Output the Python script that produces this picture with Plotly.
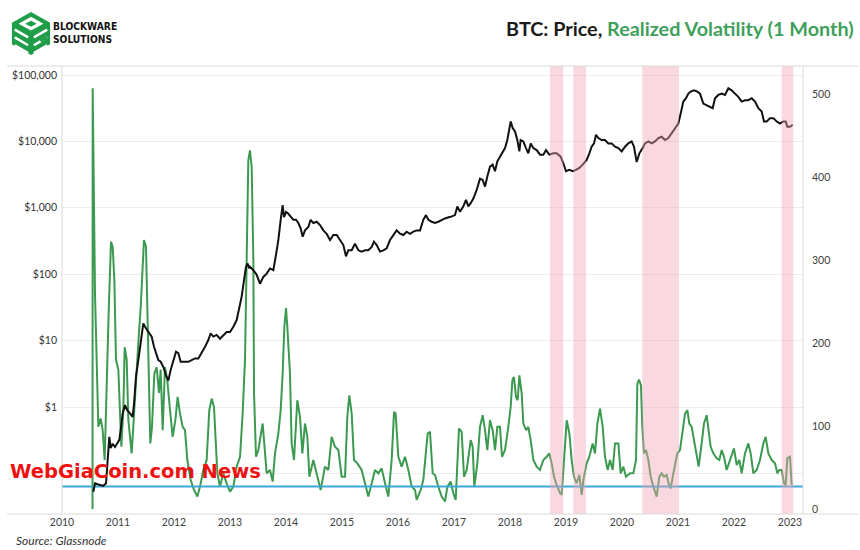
import base64
import plotly.graph_objects as go

# ---------------- data ----------------
vol_time = [
    2010.545, 2010.548, 2010.589, 2010.649, 2010.690, 2010.726, 2010.762, 2010.798, 2010.833, 2010.875,
    2010.905, 2010.935, 2010.964, 2011.006, 2011.024, 2011.060, 2011.095, 2011.119, 2011.155, 2011.185,
    2011.244, 2011.304, 2011.363, 2011.405, 2011.440, 2011.464, 2011.500, 2011.524, 2011.548, 2011.577,
    2011.607, 2011.649, 2011.690, 2011.732, 2011.762, 2011.798, 2011.839, 2011.881, 2011.929, 2011.976,
    2012.024, 2012.065, 2012.107, 2012.155, 2012.196, 2012.238, 2012.298, 2012.357, 2012.417, 2012.464,
    2012.524, 2012.583, 2012.630, 2012.673, 2012.714, 2012.744, 2012.774, 2012.821, 2012.881, 2012.940,
    2013.000, 2013.060, 2013.119, 2013.179, 2013.226, 2013.268, 2013.298, 2013.327, 2013.357, 2013.387,
    2013.417, 2013.429, 2013.464, 2013.506, 2013.583, 2013.655, 2013.714, 2013.762, 2013.804, 2013.863,
    2013.905, 2013.940, 2013.970, 2014.000, 2014.024, 2014.071, 2014.101, 2014.143, 2014.202, 2014.250,
    2014.292, 2014.339, 2014.381, 2014.417, 2014.488, 2014.548, 2014.619, 2014.696, 2014.756, 2014.815,
    2014.875, 2014.935, 2014.994, 2015.054, 2015.095, 2015.131, 2015.173, 2015.214, 2015.274, 2015.351,
    2015.411, 2015.470, 2015.530, 2015.589, 2015.649, 2015.708, 2015.768, 2015.827, 2015.887, 2015.929,
    2015.958, 2016.006, 2016.065, 2016.125, 2016.185, 2016.244, 2016.304, 2016.333, 2016.405, 2016.452,
    2016.530, 2016.571, 2016.619, 2016.661, 2016.720, 2016.780, 2016.840, 2016.881, 2016.940, 2016.988,
    2017.030, 2017.060, 2017.089, 2017.137, 2017.179, 2017.226, 2017.298, 2017.333, 2017.363, 2017.417,
    2017.464, 2017.512, 2017.554, 2017.595, 2017.643, 2017.690, 2017.732, 2017.774, 2017.821, 2017.857,
    2017.911, 2017.970, 2018.012, 2018.042, 2018.071, 2018.107, 2018.137, 2018.167, 2018.208, 2018.238,
    2018.286, 2018.327, 2018.369, 2018.417, 2018.476, 2018.536, 2018.595, 2018.655, 2018.702, 2018.744,
    2018.786, 2018.833, 2018.893, 2018.923, 2018.964, 2019.012, 2019.060, 2019.101, 2019.143, 2019.190,
    2019.238, 2019.280, 2019.310, 2019.369, 2019.417, 2019.476, 2019.518, 2019.560, 2019.607, 2019.655,
    2019.696, 2019.744, 2019.786, 2019.833, 2019.875, 2019.935, 2019.976, 2020.024, 2020.071, 2020.143,
    2020.202, 2020.250, 2020.274, 2020.304, 2020.339, 2020.363, 2020.393, 2020.429, 2020.470, 2020.512,
    2020.560, 2020.619, 2020.667, 2020.708, 2020.750, 2020.798, 2020.845, 2020.869, 2020.917, 2020.946,
    2020.988, 2021.036, 2021.083, 2021.125, 2021.167, 2021.202, 2021.244, 2021.286, 2021.333, 2021.369,
    2021.423, 2021.464, 2021.512, 2021.548, 2021.583, 2021.631, 2021.690, 2021.738, 2021.780, 2021.821,
    2021.869, 2021.929, 2022.000, 2022.048, 2022.095, 2022.137, 2022.196, 2022.256, 2022.298, 2022.345,
    2022.405, 2022.464, 2022.524, 2022.565, 2022.613, 2022.673, 2022.732, 2022.774, 2022.810, 2022.851,
    2022.893, 2022.923, 2022.952, 2023.000, 2023.030,
]
vol_value = [
    0, 507, 260, 99, 109, 95, 59, 159, 236, 322,
    316, 276, 180, 168, 140, 75, 119, 195, 180, 107,
    67, 140, 200, 243, 300, 324, 316, 240, 140, 79,
    99, 163, 171, 140, 168, 95, 171, 155, 119, 87,
    107, 135, 115, 99, 95, 59, 35, 23, 15, 27,
    47, 59, 119, 133, 123, 79, 43, 27, 43, 31,
    21, 27, 51, 63, 115, 180, 316, 420, 432, 412,
    300, 140, 63, 71, 103, 43, 47, 33, 67, 91,
    119, 163, 219, 242, 219, 163, 79, 59, 131, 111,
    67, 103, 87, 39, 59, 43, 23, 51, 47, 87,
    75, 71, 39, 39, 111, 137, 115, 59, 55, 47,
    31, 15, 31, 47, 43, 49, 31, 15, 59, 117,
    115, 63, 51, 63, 47, 27, 23, 11, 23, 35,
    91, 93, 43, 41, 27, 15, 9, 27, 33, 19,
    11, 59, 97, 93, 39, 47, 83, 75, 27, 55,
    99, 113, 95, 71, 107, 95, 71, 99, 99, 63,
    71, 99, 123, 155, 159, 135, 131, 161, 140, 103,
    95, 99, 83, 59, 51, 47, 59, 63, 67, 55,
    39, 29, 19, 17, 59, 107, 91, 59, 39, 31,
    41, 17, 35, 55, 63, 79, 67, 103, 121, 99,
    63, 47, 59, 47, 79, 79, 43, 51, 39, 43,
    43, 59, 151, 156, 149, 99, 67, 71, 59, 39,
    27, 15, 39, 43, 39, 41, 27, 25, 43, 55,
    67, 71, 95, 115, 119, 103, 99, 83, 67, 51,
    79, 103, 113, 91, 75, 67, 61, 59, 71, 63,
    47, 59, 73, 53, 59, 43, 67, 79, 67, 43,
    47, 59, 79, 87, 67, 59, 55, 43, 47, 47,
    31, 29, 61, 63, 29,
]

price_time = [
    2010.560, 2010.589, 2010.649, 2010.738, 2010.786, 2010.810, 2010.845, 2010.869, 2010.905, 2010.946,
    2010.988, 2011.024, 2011.054, 2011.083, 2011.125, 2011.167, 2011.214, 2011.262, 2011.286, 2011.321,
    2011.363, 2011.405, 2011.452, 2011.482, 2011.524, 2011.560, 2011.601, 2011.643, 2011.679, 2011.720,
    2011.762, 2011.810, 2011.857, 2011.899, 2011.940, 2011.988, 2012.036, 2012.077, 2012.119, 2012.179,
    2012.256, 2012.315, 2012.375, 2012.435, 2012.494, 2012.554, 2012.613, 2012.655, 2012.702, 2012.762,
    2012.821, 2012.881, 2012.940, 2013.000, 2013.060, 2013.119, 2013.167, 2013.208, 2013.250, 2013.286,
    2013.315, 2013.345, 2013.357, 2013.417, 2013.476, 2013.536, 2013.595, 2013.655, 2013.714, 2013.774,
    2013.821, 2013.863, 2013.905, 2013.940, 2013.964, 2014.000, 2014.042, 2014.083, 2014.131, 2014.179,
    2014.220, 2014.262, 2014.298, 2014.339, 2014.399, 2014.440, 2014.488, 2014.548, 2014.607, 2014.667,
    2014.726, 2014.786, 2014.845, 2014.905, 2014.964, 2015.024, 2015.071, 2015.113, 2015.173, 2015.232,
    2015.292, 2015.351, 2015.411, 2015.470, 2015.530, 2015.571, 2015.619, 2015.679, 2015.738, 2015.798,
    2015.857, 2015.917, 2015.976, 2016.036, 2016.095, 2016.155, 2016.214, 2016.274, 2016.333, 2016.393,
    2016.452, 2016.500, 2016.542, 2016.601, 2016.661, 2016.720, 2016.780, 2016.839, 2016.917, 2016.929,
    2017.018, 2017.060, 2017.107, 2017.167, 2017.214, 2017.256, 2017.298, 2017.345, 2017.405, 2017.464,
    2017.512, 2017.554, 2017.595, 2017.643, 2017.690, 2017.732, 2017.774, 2017.821, 2017.869, 2017.911,
    2017.952, 2017.988, 2018.012, 2018.048, 2018.089, 2018.131, 2018.167, 2018.190, 2018.238, 2018.286,
    2018.327, 2018.369, 2018.417, 2018.476, 2018.536, 2018.595, 2018.643, 2018.702, 2018.774, 2018.833,
    2018.905, 2018.952, 2019.000, 2019.060, 2019.119, 2019.179, 2019.238, 2019.298, 2019.369, 2019.417,
    2019.458, 2019.500, 2019.536, 2019.577, 2019.637, 2019.696, 2019.756, 2019.815, 2019.875, 2019.935,
    2019.994, 2020.054, 2020.113, 2020.173, 2020.214, 2020.262, 2020.310, 2020.369, 2020.411, 2020.470,
    2020.530, 2020.589, 2020.649, 2020.708, 2020.768, 2020.827, 2020.887, 2020.946, 2021.006, 2021.048,
    2021.095, 2021.143, 2021.185, 2021.226, 2021.286, 2021.345, 2021.393, 2021.452, 2021.500, 2021.560,
    2021.619, 2021.661, 2021.720, 2021.780, 2021.839, 2021.899, 2021.958, 2022.018, 2022.077, 2022.137,
    2022.196, 2022.256, 2022.315, 2022.375, 2022.435, 2022.494, 2022.536, 2022.583, 2022.643, 2022.702,
    2022.762, 2022.821, 2022.881, 2022.923, 2022.952, 2023.000, 2023.048,
]
price_value = [
    0.053, 0.071, 0.068, 0.065, 0.071, 0.126, 0.355, 0.24, 0.28, 0.25,
    0.28, 0.32, 0.50, 0.80, 1.07, 0.89, 0.80, 0.71, 1.12, 2.86,
    5.1, 9.1, 18.2, 16.2, 14.5, 12.9, 11.5, 8.1, 6.5, 5.1,
    4.8, 4.0, 3.0, 2.5, 3.6, 4.8, 6.8, 6.5, 4.8, 4.8,
    4.8, 5.1, 5.4, 5.4, 6.5, 8.1, 10.2, 12.9, 11.5, 12.2,
    10.7, 12.2, 13.5, 13.5, 16.2, 20.4, 32, 46, 81, 129,
    145, 122, 129, 115, 98, 72, 91, 102, 122, 115,
    195, 327, 660, 1100, 725, 870, 813, 725, 660, 660,
    590, 490, 367, 457, 513, 660, 590, 617, 550, 457,
    407, 327, 389, 389, 327, 275, 186, 229, 229, 288,
    229, 219, 229, 229, 257, 309, 275, 219, 229, 245,
    327, 389, 457, 407, 389, 437, 407, 437, 457, 457,
    660, 776, 660, 617, 590, 617, 660, 692, 725, 725,
    776, 1050, 870, 1050, 1320, 1050, 1175, 1380, 1860, 2750,
    2630, 2090, 2950, 4170, 4470, 3550, 5010, 5890, 6610, 7940,
    10500, 15850, 19950, 15850, 14130, 10500, 7080, 10500, 10000, 7940,
    6610, 9330, 7940, 7410, 6310, 6310, 7410, 6310, 6610, 6610,
    5890, 4680, 3550, 3720, 3550, 3720, 3980, 4470, 5250, 6610,
    8320, 9330, 12590, 11220, 10500, 10500, 9330, 9330, 8320, 7940,
    7080, 8320, 9330, 10000, 8320, 4900, 6610, 7940, 9330, 10000,
    9330, 10000, 11220, 11750, 10500, 11220, 13180, 15850, 18620, 26300,
    39810, 44670, 52480, 56230, 58880, 56230, 52480, 37150, 35480, 33110,
    31620, 44670, 50120, 52480, 50120, 63100, 58880, 52480, 46770, 39810,
    41690, 41690, 44670, 39810, 31620, 28180, 19950, 19950, 22390, 22390,
    19950, 18620, 19950, 19950, 16600, 16600, 17780,
]

band_start = [2018.714, 2019.131, 2020.363, 2022.851]
band_end = [2018.952, 2019.357, 2021.018, 2023.059]
vol_threshold = 27

year_ticks = list(range(2010, 2024))
year_labels = [str(y) for y in year_ticks]
# the $0.1 label is hidden behind the watermark in the reference
price_ticks = [0.1, 1, 10, 100, 1000, 10000, 100000]
price_labels = ["", "$1", "$10", "$100", "$1,000", "$10,000", "$100,000"]
vol_ticks = [0, 100, 200, 300, 400, 500]

# ---------------- layout geometry ----------------
W, H = 860, 550
ML, MR, MT, MB = 62, 57, 66, 36
PW, PH = W - ML - MR, H - MT - MB


def px(x):
    return (x - ML) / PW


def py(y):
    return (H - MB - y) / PH


GREEN = "#3c9a50"
BLACK = "#111111"
BLUE = "#3aa8d8"
FONT = "Lato, 'Open Sans', sans-serif"

fig = go.Figure()
fig.add_trace(go.Scatter(x=vol_time, y=vol_value, mode="lines", yaxis="y",
                         line=dict(color=GREEN, width=2), hoverinfo="skip"))
fig.add_trace(go.Scatter(x=[2010.0, 2023.232], y=[vol_threshold, vol_threshold], mode="lines",
                         yaxis="y", line=dict(color=BLUE, width=2), hoverinfo="skip"))
fig.add_trace(go.Scatter(x=price_time, y=price_value, mode="lines", yaxis="y2",
                         line=dict(color=BLACK, width=2), hoverinfo="skip"))

shapes = []
for s, e in zip(band_start, band_end):
    shapes.append(dict(type="rect", xref="x", yref="paper", x0=s, x1=e, y0=0, y1=1,
                       fillcolor="#f4a3b6", opacity=0.42, line=dict(width=0), layer="above"))
FRAME = "#dadada"
shapes += [
    dict(type="line", xref="paper", yref="paper", x0=px(7), x1=px(858), y0=1, y1=1,
         line=dict(color=FRAME, width=1)),
    dict(type="line", xref="paper", yref="paper", x0=px(7), x1=px(858), y0=0, y1=0,
         line=dict(color=FRAME, width=1)),
    dict(type="line", xref="paper", yref="paper", x0=0, x1=0, y0=0, y1=1,
         line=dict(color=FRAME, width=1)),
    dict(type="line", xref="paper", yref="paper", x0=1, x1=1, y0=0, y1=1,
         line=dict(color=FRAME, width=1)),
]

logo_svg = """<svg xmlns='http://www.w3.org/2000/svg' viewBox='0 0 44 46'>
<polygon points='22,1 42,12 42,34 22,45 2,34 2,12' fill='#1f9d49'/>
<polygon points='22,6 35,13 22,20 9,13' fill='white'/>
<polygon points='22,10 28,13 22,16 16,13' fill='#1f9d49'/>
<path d='M5,19 L19,27 M5,27 L19,35 M5,35 L19,43' stroke='white' stroke-width='2.6' fill='none'/>
<path d='M25,27 L39,19 M25,35 L39,27 M25,43 L39,35' stroke='white' stroke-width='2.6' fill='none'/>
<path d='M25,31 L32,27 M32,31 L39,27' stroke='#1f9d49' stroke-width='3' fill='none'/>
</svg>"""
logo_src = "data:image/svg+xml;base64," + base64.b64encode(logo_svg.encode()).decode()

annotations = [
    dict(xref="paper", yref="paper", x=px(856), y=py(28), xanchor="right", yanchor="middle",
         showarrow=False,
         text="<b>BTC: Price, <span style='color:#3f9f5c'>Realized Volatility (1 Month)</span></b>",
         font=dict(family=FONT, size=19.8, color="#1a1a1a")),
    dict(xref="paper", yref="paper", x=px(51), y=py(33), xanchor="left", yanchor="middle",
         showarrow=False, text="<b>BLOCKWARE<br>SOLUTIONS</b>", align="left",
         font=dict(family="'DejaVu Sans Condensed', 'Liberation Sans Narrow', 'Roboto', sans-serif",
                   size=10.2, color="#111111")),
    dict(xref="paper", yref="paper", x=px(8), y=py(471), xanchor="left", yanchor="middle",
         showarrow=False, text="<b>WebGiaCoin.com News</b>",
         font=dict(family="'DejaVu Sans', sans-serif", size=19.5, color="#ee1111")),
    dict(xref="paper", yref="paper", x=px(14), y=py(540), xanchor="left", yanchor="middle",
         showarrow=False, text="<i>Source: Glassnode</i>",
         font=dict(family=FONT, size=12, color="#333333")),
]

fig.update_layout(
    width=W, height=H,
    margin=dict(l=ML, r=MR, t=MT, b=MB, pad=0),
    paper_bgcolor="white", plot_bgcolor="white",
    showlegend=False,
    xaxis=dict(range=[2010.0, 2023.232], tickmode="array", tickvals=year_ticks, ticktext=year_labels,
               showgrid=False, zeroline=False, showline=False, ticks="",
               tickfont=dict(family=FONT, size=10.5, color="#404040")),
    yaxis=dict(side="right", range=[-6, 533.7], tickmode="array", tickvals=vol_ticks,
               showgrid=False, zeroline=False, showline=False, ticks="", ticklabelstandoff=8,
               tickfont=dict(family=FONT, size=10.5, color="#404040")),
    yaxis2=dict(side="left", overlaying="y", type="log", range=[-1.611, 5.1355],
                tickmode="array", tickvals=price_ticks, ticktext=price_labels,
                showgrid=True, gridcolor="#ededed", gridwidth=1, zeroline=False, showline=False,
                ticks="", ticklabelstandoff=4,
                tickfont=dict(family=FONT, size=10.5, color="#333333")),
    shapes=shapes,
    annotations=annotations,
    images=[dict(source=logo_src, xref="paper", yref="paper", x=px(10), y=py(11),
                 sizex=42 / PW, sizey=45 / PH, xanchor="left", yanchor="top",
                 sizing="stretch", layer="above")],
)

fig.write_html("out.html")
